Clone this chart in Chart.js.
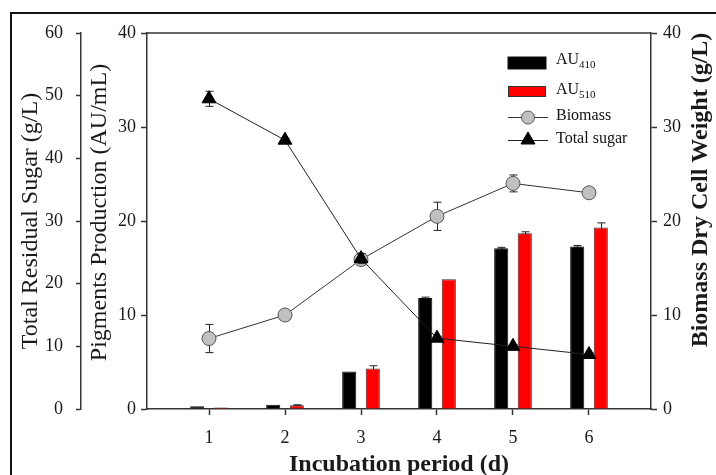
<!DOCTYPE html>
<html><head><meta charset="utf-8">
<script src="https://cdn.jsdelivr.net/npm/chart.js@4.4.0/dist/chart.umd.min.js"></script>
<style>
html,body{margin:0;padding:0;background:#fff;overflow:hidden;width:716px;height:475px;}
#wrap{position:relative;width:716px;height:475px;overflow:hidden;}
#frame{position:absolute;left:10px;top:12px;width:800px;height:600px;border:2px solid #111;box-sizing:border-box;}
canvas{position:absolute;left:0;top:0;}
#legend{position:absolute;left:0;top:0;width:716px;height:475px;font-family:'Liberation Serif',serif;font-size:16px;color:#111;pointer-events:none;}
#legend svg{position:absolute;left:0;top:0;}
.lt{position:absolute;line-height:16px;white-space:nowrap;}
.lt sub{font-size:11px;line-height:0;vertical-align:-4px;}
</style></head>
<body><div id="wrap"><div id="frame"></div><canvas id="c" width="716" height="475"></canvas><div id="legend"></div></div>
<script>
// ---- data ----
const days = [1, 2, 3, 4, 5, 6];
const au410 = [0.3, 0.45, 4.0, 11.8, 17.1, 17.3];
const au410Err = [0, 0, 0, 0.1, 0.1, 0.1];
const au510 = [0.15, 0.4, 4.3, 13.8, 18.7, 19.3];
const au510Err = [0, 0.05, 0.3, 0, 0.15, 0.5];
const biomass = [7.5, 10.0, 15.9, 20.5, 24.0, 23.0];
const biomassErr = [1.5, 0.2, 0.6, 1.5, 0.9, 0.3];
const sugar = [49.5, 42.9, 24.0, 11.3, 10.0, 8.7];
const sugarErr = [1.2, 0.3, 0.8, 0.3, 0.3, 0.3];
const sugarTicks = [0, 10, 20, 30, 40, 50, 60];
const pigmentTicks = [0, 10, 20, 30, 40];
const biomassTicks = [0, 10, 20, 30, 40];
const legendNames = [['AU', '410'], ['AU', '510'], ['Biomass', ''], ['Total sugar', '']];
const axisTitles = {
  x: 'Incubation period (d)',
  sugar: 'Total Residual Sugar (g/L)',
  pigment: 'Pigments Production (AU/mL)',
  biomass: 'Biomass Dry Cell Weight (g/L)'
};

const FONT = "'Liberation Serif', serif";
const AX = '#333';
const TXT = '#1a1a1a';
const pts = arr => days.map((d, i) => ({x: d, y: arr[i]}));

const errorBars = {
  id: 'errorBars',
  beforeDatasetDraw(chart, args) {
    const meta = args.meta;
    const ds = chart.data.datasets[args.index];
    if (!ds.errors) return;
    const ys = chart.scales[meta.yAxisID];
    const ctx = chart.ctx;
    ctx.save();
    ctx.strokeStyle = '#222';
    ctx.lineWidth = 1;
    meta.data.forEach((el, i) => {
      const e = ds.errors[i];
      if (!e) return;
      const v = ds.data[i].y;
      const x = Math.round(el.x) + 0.5;
      const y1 = ys.getPixelForValue(v + e);
      const y2 = ys.getPixelForValue(v - e);
      ctx.beginPath();
      ctx.moveTo(x, y1); ctx.lineTo(x, y2);
      ctx.moveTo(x - 4, y1); ctx.lineTo(x + 4, y1);
      ctx.moveTo(x - 4, y2); ctx.lineTo(x + 4, y2);
      ctx.stroke();
    });
    ctx.restore();
  }
};

function vTitle(ctx, text, x, y, font) {
  ctx.save();
  ctx.translate(x, y);
  ctx.rotate(-Math.PI / 2);
  ctx.font = font;
  ctx.fillStyle = TXT;
  ctx.textAlign = 'center';
  ctx.textBaseline = 'middle';
  ctx.fillText(text, 0, 0);
  ctx.restore();
}

const frameAndTitle = {
  id: 'frameAndTitle',
  afterDraw(chart) {
    const ctx = chart.ctx;
    const a = chart.chartArea;
    ctx.save();
    ctx.strokeStyle = AX;
    ctx.lineWidth = 1.5;
    ctx.beginPath();
    ctx.moveTo(a.left, a.top); ctx.lineTo(a.right, a.top);
    ctx.stroke();
    ctx.restore();
    const sy = chart.scales.y, sb = chart.scales.yBio;
    vTitle(ctx, axisTitles.pigment, sy.left + 18.5, (sy.top + sy.bottom) / 2 - 8.5, "24px " + FONT);
    vTitle(ctx, axisTitles.biomass, sb.left + 49.5, (sb.top + sb.bottom) / 2 - 31, "bold 24px " + FONT);
  }
};

const tickFont = {family: FONT, size: 18};
const titleFont = {family: FONT, size: 24, weight: 'normal', lineHeight: 1};

new Chart(document.getElementById('c'), {
  type: 'bar',
  data: {
    datasets: [
      {type: 'bar', label: 'AU410', data: pts(au410), errors: au410Err, yAxisID: 'y', xAxisID: 'x',
       backgroundColor: '#000', borderColor: '#111', borderWidth: 1, order: 2,
       categoryPercentage: 0.62, barPercentage: 0.6},
      {type: 'bar', label: 'AU510', data: pts(au510), errors: au510Err, yAxisID: 'y', xAxisID: 'x',
       backgroundColor: '#ff0000', borderColor: '#333', borderWidth: 1, order: 2,
       categoryPercentage: 0.62, barPercentage: 0.6},
      {type: 'line', label: 'Biomass', data: pts(biomass), errors: biomassErr, yAxisID: 'yBio', xAxisID: 'x',
       borderColor: '#333', borderWidth: 1, pointStyle: 'circle', pointRadius: 7,
       pointBackgroundColor: '#c0c0c0', pointBorderColor: '#555', pointBorderWidth: 1, order: 1, tension: 0},
      {type: 'line', label: 'Total sugar', data: pts(sugar), errors: sugarErr, yAxisID: 'ySugar', xAxisID: 'x',
       borderColor: '#222', borderWidth: 1, pointStyle: 'triangle', pointRadius: 8,
       pointBackgroundColor: '#000', pointBorderColor: '#000', pointBorderWidth: 1, order: 0, tension: 0}
    ]
  },
  options: {
    responsive: false,
    animation: false,
    devicePixelRatio: 1,
    layout: {padding: {top: 33, left: 0, right: 0, bottom: 0}},
    plugins: {legend: {display: false}, tooltip: {enabled: false}},
    scales: {
      x: {
        type: 'linear', position: 'bottom', min: 0.184, max: 6.816, offset: false,
        afterBuildTicks: s => { s.ticks = days.map(v => ({value: v})); },
        afterFit: s => { s.height = 66; },
        grid: {display: true, drawOnChartArea: false, drawTicks: true, tickLength: 6, color: AX, tickWidth: 1.5, offset: false},
        border: {display: true, color: AX, width: 1.5},
        ticks: {font: tickFont, color: TXT, padding: 12, maxRotation: 0, autoSkip: false},
        title: {display: true, text: axisTitles.x, font: {family: FONT, size: 24, weight: 'bold', lineHeight: 1}, color: TXT, padding: {top: 0, bottom: -2}}
      },
      ySugar: {
        type: 'linear', position: 'left', min: 0, max: 60, weight: 1,
        afterBuildTicks: s => { s.ticks = sugarTicks.map(v => ({value: v})); },
        afterFit: s => { s.width = 81; },
        grid: {drawOnChartArea: false, drawTicks: true, tickLength: 5, color: AX, tickWidth: 1.5},
        border: {display: true, color: AX, width: 1.5},
        ticks: {font: tickFont, color: TXT, padding: 13},
        title: {display: true, text: axisTitles.sugar, font: titleFont, color: TXT, padding: {top: 18.5, bottom: 0}}
      },
      y: {
        type: 'linear', position: 'left', min: 0, max: 40, weight: 0,
        afterBuildTicks: s => { s.ticks = pigmentTicks.map(v => ({value: v})); },
        afterFit: s => { s.width = 66; },
        grid: {drawOnChartArea: false, drawTicks: true, tickLength: 6, color: AX, tickWidth: 1.5},
        border: {display: true, color: AX, width: 1.5},
        ticks: {font: tickFont, color: TXT, padding: 5},
        title: {display: false}
      },
      yBio: {
        type: 'linear', position: 'right', min: 0, max: 40,
        afterBuildTicks: s => { s.ticks = biomassTicks.map(v => ({value: v})); },
        afterFit: s => { s.width = 65; },
        grid: {drawOnChartArea: false, drawTicks: true, tickLength: 6, color: AX, tickWidth: 1.5},
        border: {display: true, color: AX, width: 1.5},
        ticks: {font: tickFont, color: TXT, padding: 6},
        title: {display: false}
      }
    }
  },
  plugins: [errorBars, frameAndTitle]
});

// ---- legend (HTML, for subscripts) ----
(function () {
  const lg = document.getElementById('legend');
  const tops = [51, 81, 107, 130];
  let html = '<svg width="716" height="475" xmlns="http://www.w3.org/2000/svg">' +
    '<rect x="508" y="57" width="38" height="12" fill="#000" stroke="#111" stroke-width="1"/>' +
    '<rect x="508.5" y="86.5" width="37" height="10" fill="#ff0000" stroke="#333" stroke-width="1"/>' +
    '<line x1="508" y1="117.5" x2="548" y2="117.5" stroke="#333" stroke-width="1"/>' +
    '<circle cx="528" cy="117.5" r="6.5" fill="#c0c0c0" stroke="#555" stroke-width="1"/>' +
    '<line x1="508" y1="140.5" x2="548" y2="140.5" stroke="#222" stroke-width="1"/>' +
    '<polygon points="528,132 535,144 521,144" fill="#000" stroke="#000" stroke-width="1"/>' +
    '</svg>';
  legendNames.forEach((n, i) => {
    html += '<div class="lt" style="left:556px;top:' + tops[i] + 'px">' + n[0] + (n[1] ? '<sub>' + n[1] + '</sub>' : '') + '</div>';
  });
  lg.innerHTML = html;
})();
</script>
</body></html>
